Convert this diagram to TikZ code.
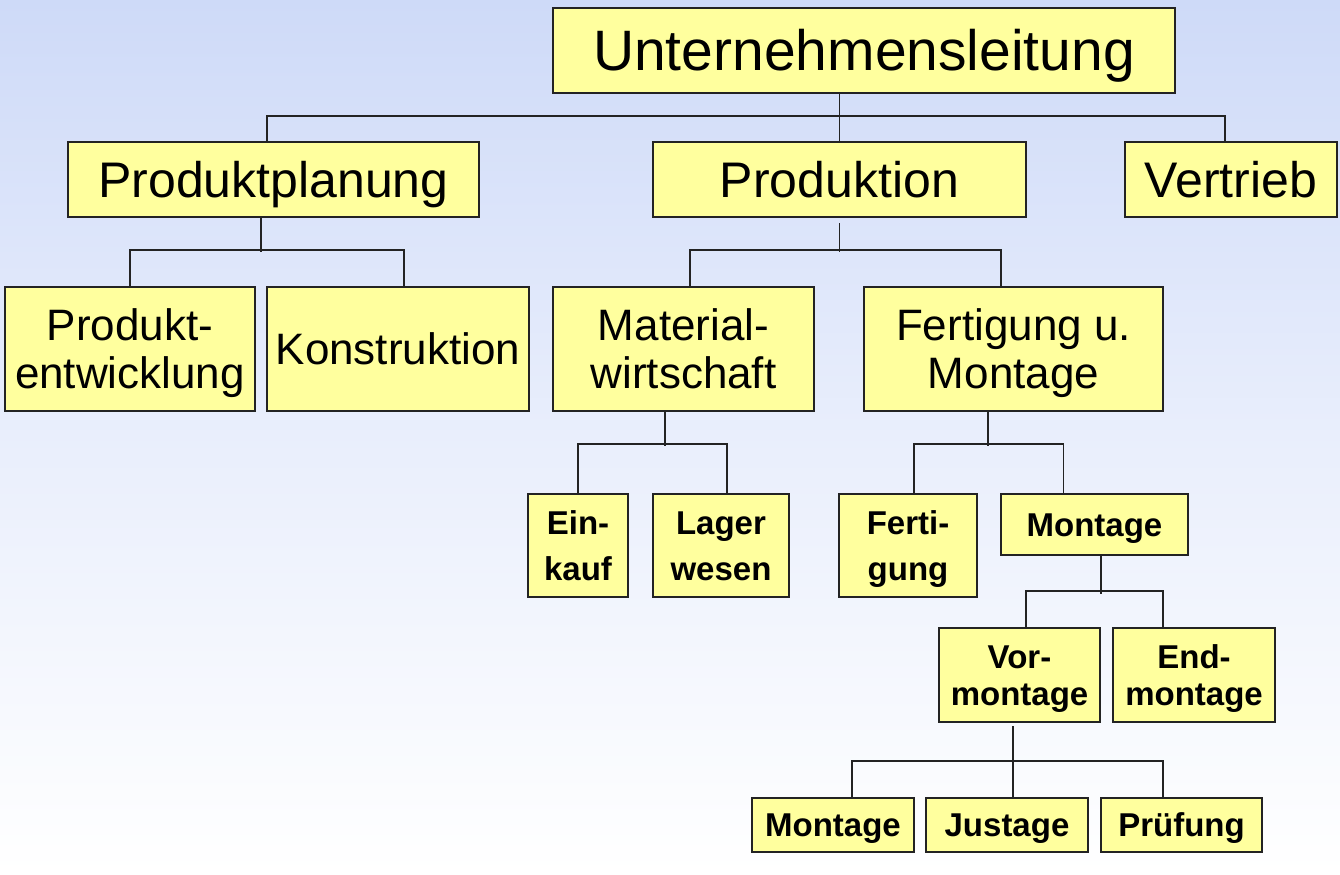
\documentclass[tikz,border=0pt]{standalone}
\usepackage{fontspec}
\setmainfont{Liberation Sans}
\usepackage{xcolor}
\usetikzlibrary{positioning, calc}

\definecolor{boxyellow}{RGB}{255,255,158}
\definecolor{bgblue}{RGB}{206,218,248}
\definecolor{linegray}{RGB}{35,35,35}

\tikzset{
    orgbox/.style={draw=linegray, line width=1pt, fill=boxyellow, inner sep=0pt, align=center, text depth=0pt},
    headbox/.style={orgbox, font=\fontsize{28.5}{34}\selectfont, text height=20.4pt},
    deptbox/.style={orgbox, font=\fontsize{25}{30}\selectfont, text height=17.9pt},
    unitbox/.style={orgbox, font=\fontsize{22}{24}\selectfont, text height=#1},
    unitbox/.default=15.75pt,
    taskbox/.style={orgbox, font=\bfseries\fontsize{16.5}{#1}\selectfont},
    taskbox/.default=20pt,
    link/.style={draw=linegray, line width=0.8pt},
}

\begin{document}
\begin{tikzpicture}[x=0.5pt, y=-0.5pt]
    % Background
    \useasboundingbox (0,0) rectangle (1340,874);
    \shade[top color=bgblue, bottom color=white, middle color=bgblue!45] (0,0) rectangle (1340,874);

    % Top level
    \node[headbox, minimum width=311pt, minimum height=42.5pt] (ul) at (864,50.5) {Unternehmensleitung};

    % Departments
    \node[deptbox, minimum width=205.5pt, minimum height=37.5pt] (pp) at (273.5,179.5) {Produktplanung};
    \node[deptbox, minimum width=186.5pt, minimum height=37.5pt] (prod) at (839.5,179.5) {Produktion};
    \node[deptbox, minimum width=106pt, minimum height=37.5pt] (vert) at (1231,179.5) {Vertrieb};

    % Sections
    \node[unitbox=39.75pt, minimum width=125pt, minimum height=62pt] (pe) at (130,349) {Produkt-\\entwicklung};
    \node[unitbox, minimum width=131pt, minimum height=62pt] (kon) at (398,349) {Konstruktion};
    \node[unitbox=39.75pt, minimum width=130.5pt, minimum height=62pt] (mw) at (683.5,349) {Material-\\wirtschaft};
    \node[unitbox=39.75pt, minimum width=149.5pt, minimum height=62pt] (fm) at (1013.5,349) {Fertigung u.\\Montage};

    % Groups
    \node[taskbox=23pt, text height=34.8pt, minimum width=50pt, minimum height=51.5pt] (ek) at (578,545.5) {Ein-\\kauf};
    \node[taskbox=23pt, text height=34.8pt, minimum width=68pt, minimum height=51.5pt] (lw) at (721,545.5) {Lager\\wesen};
    \node[taskbox=23pt, text height=34.8pt, minimum width=69pt, minimum height=51.5pt] (fg) at (908,545.5) {Ferti-\\gung};
    \node[taskbox, text height=11.8pt, minimum width=93.5pt, minimum height=30.5pt] (mo) at (1094.5,524.5) {Montage};
    \node[taskbox=18.5pt, text height=30.3pt, minimum width=80.5pt, minimum height=47pt] (vm) at (1019.5,675) {Vor-\\montage};
    \node[taskbox=18.5pt, text height=30.3pt, minimum width=81pt, minimum height=47pt] (em) at (1194,675) {End-\\montage};
    \node[taskbox, text height=11.8pt, minimum width=81pt, minimum height=27pt] (mt) at (833,825) {Montage};
    \node[taskbox, text height=11.8pt, minimum width=81pt, minimum height=27pt] (js) at (1007,825) {Justage};
    \node[taskbox, text height=11.8pt, minimum width=80.5pt, minimum height=27pt] (pr) at (1181.5,825) {Prüfung};

    % Unternehmensleitung
    \draw[link] (ul.south -| prod.north) -- (prod.north);
    \draw[link] ([xshift=-3.25pt]pp.north) -- ++(0,-25) -| ([xshift=-3pt]vert.north);

    % Produktplanung
    \draw[link] ([xshift=-6.25pt]pp.south) -- ++(0,34);
    \draw[link] (pe.north) -- ++(0,-36) -| ([xshift=3pt]kon.north);

    % Produktion
    \draw[link, shorten <=2.5pt] (prod.south) -- ++(0,34);
    \draw[link] ([xshift=3.25pt]mw.north) -- ++(0,-36) -| ([xshift=-6.25pt]fm.north);

    % Materialwirtschaft
    \draw[link] ([xshift=-9.25pt]mw.south) -- ++(0,34);
    \draw[link] (ek.north) -- ++(0,-49) -| ([xshift=3pt]lw.north);

    % Fertigung u. Montage
    \draw[link] ([xshift=-12.75pt]fm.south) -- ++(0,34);
    \draw[link] ([xshift=3pt]fg.north) -- ++(0,-49) -| ([xshift=-15.5pt]mo.north);

    % Montage
    \draw[link] ([xshift=3.25pt]mo.south) -- ++(0,37.5);
    \draw[link] ([xshift=3.25pt]vm.north) -- ++(0,-36) -| ([xshift=-15.5pt]em.north);

    % Vormontage
    \draw[link, shorten <=1.5pt] ([xshift=-3.25pt]vm.south) -- ([xshift=3pt]js.north);
    \draw[link] ([xshift=9.5pt]mt.north) -- ++(0,-36) -| ([xshift=-9.25pt]pr.north);
\end{tikzpicture}
\end{document}
